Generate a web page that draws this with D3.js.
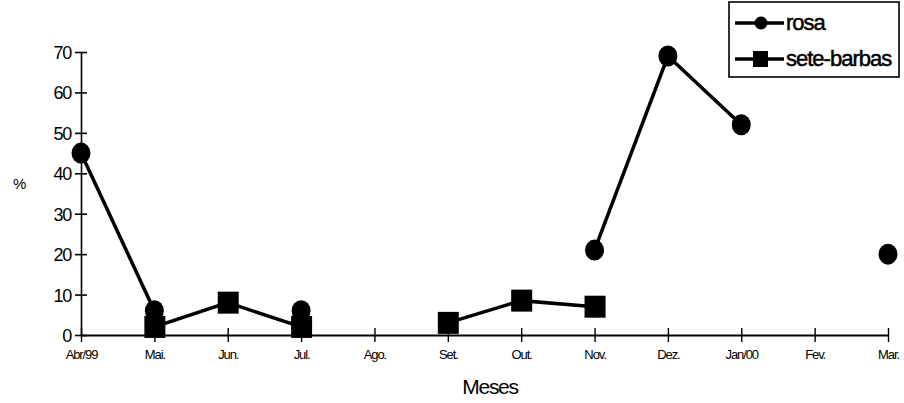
<!DOCTYPE html>
<html><head><meta charset="utf-8">
<script src="https://cdn.jsdelivr.net/npm/d3@7"></script>
<style>body{margin:0;background:#fff}svg{display:block}text{font-family:"Liberation Sans",Arial,sans-serif;fill:#000}</style>
</head><body><svg id="c" width="904" height="403"></svg>
<script>
const months = ["Abr/99","Mai.","Jun.","Jul.","Ago.","Set.","Out.","Nov.","Dez.","Jan/00","Fev.","Mar."];
const rosa = [45, 6, null, 6, null, null, null, 21, 69, 52, null, 20];
const seteBarbas = [null, 2, 8, 2, null, 3, 8.5, 7, null, null, null, null];
const yTicks = [0,10,20,30,40,50,60,70];
const seriesNames = ["rosa","sete-barbas"];

const svg = d3.select("#c");
const x = d3.scalePoint().domain(months).range([81, 888]);
const y = d3.scaleLinear().domain([0,70]).range([335, 52]);

// axes
const gy = svg.append("g").attr("transform","translate(81,0)")
  .call(d3.axisLeft(y).tickValues(yTicks).tickSize(0).tickPadding(10));
gy.select(".domain").attr("stroke","#000").attr("stroke-width",1.6);
gy.selectAll("text").style("font-size","18px").style("letter-spacing","-1.2px").attr("dy","0.36em");
gy.selectAll(".tick").append("line").attr("x1",-6).attr("x2",6).attr("stroke","#000").attr("stroke-width",1.6);

const gx = svg.append("g").attr("transform","translate(0,335)")
  .call(d3.axisBottom(x).tickSize(0).tickPadding(15));
gx.select(".domain").attr("stroke","#000").attr("stroke-width",2.2);
gx.selectAll("text").style("font-size","13px").style("letter-spacing","-1.1px");
gx.selectAll(".tick").append("line").attr("y1",-7).attr("y2",7).attr("stroke","#000").attr("stroke-width",1.4);

svg.append("text").attr("x",13).attr("y",189).style("font-size","15px").text("%");
svg.append("text").attr("x",490).attr("y",394).attr("text-anchor","middle")
  .style("font-size","21px").style("letter-spacing","-1.3px").text("Meses");

function draw(vals, shape){
  const pts = vals.map((v,i)=>({m:months[i], v}));
  const line = d3.line().defined(d=>d.v!=null).x(d=>x(d.m)).y(d=>y(d.v));
  svg.append("path").datum(pts).attr("d",line).attr("fill","none").attr("stroke","#000").attr("stroke-width",3.5);
  const p = pts.filter(d=>d.v!=null);
  if(shape==="circle"){
    svg.selectAll(null).data(p).enter().append("ellipse")
      .attr("cx",d=>x(d.m)).attr("cy",d=>y(d.v)).attr("rx",9.5).attr("ry",10.5).attr("fill","#000");
  } else {
    svg.selectAll(null).data(p).enter().append("rect")
      .attr("x",d=>x(d.m)-10).attr("y",d=>y(d.v)-11).attr("width",21).attr("height",22).attr("fill","#000");
  }
}
draw(seteBarbas,"square");
draw(rosa,"circle");

// legend
const lg = svg.append("g");
lg.append("rect").attr("x",729).attr("y",2).attr("width",170).attr("height",75).attr("fill","#fff").attr("stroke","#000").attr("stroke-width",1.6);
seriesNames.forEach((n,i)=>{
  const cy = 23 + i*36;
  lg.append("line").attr("x1",735).attr("x2",784).attr("y1",cy).attr("y2",cy).attr("stroke","#000").attr("stroke-width",3.5);
  if(i===0) lg.append("circle").attr("cx",761).attr("cy",cy).attr("r",6.5).attr("fill","#000");
  else lg.append("rect").attr("x",753).attr("y",cy-8).attr("width",15).attr("height",16).attr("fill","#000");
  lg.append("text").attr("x",786).attr("y",cy+7).style("font-size","22px").style("letter-spacing","-1px")
    .attr("stroke","#000").attr("stroke-width",0.5).text(n);
});
</script></body></html>
